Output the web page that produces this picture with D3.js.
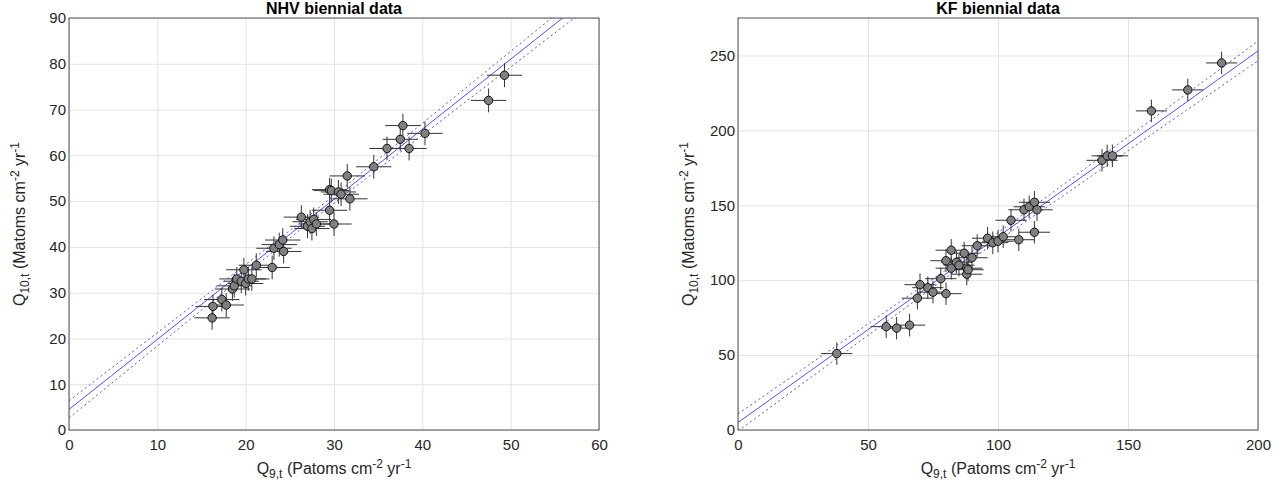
<!DOCTYPE html>
<html><head><meta charset="utf-8">
<script src="https://cdn.jsdelivr.net/npm/d3@7"></script>
<style>body{margin:0;background:#fff;font-family:"Liberation Sans",Arial,sans-serif}</style>
</head><body><svg id="c" width="1283" height="494"></svg>
<script>
// NHV data
const nhvX = [16.2,16.3,17.3,17.8,18.5,18.7,19,19.5,19.8,20,20.3,20.7,21.2,23,23.2,23.8,24.2,24.3,26.3,27,27.3,27.5,27.7,28,29.5,29.7,30.5,30.8,31.5,31.8,29.5,30,34.5,36,37.5,37.8,38.5,40.3,47.5,49.3];
const nhvY = [24.5,27,28.5,27.3,30.8,31.5,33,32.5,35,32,33,33,36,35.5,39.7,40.5,41.5,39,46.5,44.5,45.5,44,46,45,52.5,52.3,52,51.5,55.5,50.5,48,45,57.5,61.5,63.5,66.5,61.5,64.8,72,77.5];
// KF data
const kfX = [38,57,61,66,69,70,73,75,78,80,80,82,82,84,85,87,88,88,88.5,90,92,96,98,100,102,105,108,110,112,114,114,115,140,142,144,159,173,186];
const kfY = [51,69,68,70,88,97,95,92,101,91,113,120,108,112,110,118,104,108,107,115,123,128,125,126,129,140,127,147,149,132,152,147,180,183,183,213,227,245];
const nhvErr = [2, 2.6];
const kfErr = [6, 7.5];
const nhvFit = [4.5, 1.53, 0.75];
const kfFit = [5, 1.24, 2.3];

const svg = d3.select("#c");
function panel(x0, x1, xd, yd, xt, yt, X, Y, err, fit, title) {
  const x = d3.scaleLinear().domain(xd).range([x0, x1]);
  const y = d3.scaleLinear().domain(yd).range([430, 18]);
  const g = svg.append("g");
  const xa = g.append("g").attr("transform","translate(0,430)")
    .call(d3.axisBottom(x).tickValues(xt).tickSize(-412).tickSizeOuter(0));
  const ya = g.append("g").attr("transform",`translate(${x0},0)`)
    .call(d3.axisLeft(y).tickValues(yt).tickSize(-(x1-x0)).tickSizeOuter(0));
  g.selectAll(".tick line").attr("stroke","#e3e3e3");
  g.selectAll(".domain").remove();
  g.selectAll(".tick text").attr("font-size",15).attr("fill","#262626")
    .attr("font-family","Liberation Sans, Arial");
  xa.selectAll(".tick text").attr("dy","1.1em");
  g.append("rect").attr("x",x0).attr("y",18).attr("width",x1-x0).attr("height",412)
    .attr("fill","none").attr("stroke","#262626").attr("stroke-width",0.8);
  const clip = "cl"+x0;
  g.append("clipPath").attr("id",clip).append("rect").attr("x",x0).attr("y",18).attr("width",x1-x0).attr("height",412);
  const inner = g.append("g").attr("clip-path",`url(#${clip})`);
  const lx = d3.range(xd[0], xd[1]+0.001, (xd[1]-xd[0])/50);
  const mid = xd[1]*0.45;
  [[0,null],[fit[2],"2,3"],[-fit[2],"2,3"]].forEach(([o,d])=>{
    inner.append("path").attr("d", d3.line().x(v=>x(v)).y(v=>y(fit[0]+fit[1]*v + o*(1+1.5*Math.abs(v-mid)/mid)))(lx))
      .attr("fill","none").attr("stroke","#3b3bff").attr("stroke-width",0.9).attr("stroke-dasharray",d);
  });
  const pts = X.map((v,i)=>[v,Y[i]]);
  inner.selectAll(".eh").data(pts).join("line").attr("x1",d=>x(d[0]-err[0])).attr("x2",d=>x(d[0]+err[0]))
    .attr("y1",d=>y(d[1])).attr("y2",d=>y(d[1])).attr("stroke","#333").attr("stroke-width",1);
  inner.selectAll(".ev").data(pts).join("line").attr("x1",d=>x(d[0])).attr("x2",d=>x(d[0]))
    .attr("y1",d=>y(d[1]-err[1])).attr("y2",d=>y(d[1]+err[1])).attr("stroke","#333").attr("stroke-width",1);
  inner.selectAll("circle").data(pts).join("circle").attr("cx",d=>x(d[0])).attr("cy",d=>y(d[1]))
    .attr("r",4.2).attr("fill","#808080").attr("stroke","#111").attr("stroke-width",1);
  g.append("text").attr("x",(x0+x1)/2).attr("y",14).attr("text-anchor","middle")
    .attr("font-size",16).attr("font-weight","bold").text(title);
  const xl = g.append("text").attr("x",(x0+x1)/2).attr("y",474).attr("text-anchor","middle").attr("font-size",16).attr("fill","#262626");
  xl.append("tspan").text("Q"); xl.append("tspan").attr("font-size",12).attr("dy",4).text("9,t");
  xl.append("tspan").attr("dy",-4).text(" (Patoms cm"); xl.append("tspan").attr("font-size",12).attr("dy",-6).text("-2");
  xl.append("tspan").attr("dy",6).text(" yr"); xl.append("tspan").attr("font-size",12).attr("dy",-6).text("-1");
  const yl = g.append("text").attr("transform",`translate(${x0-44},224) rotate(-90)`).attr("text-anchor","middle").attr("font-size",16).attr("fill","#262626");
  yl.append("tspan").text("Q"); yl.append("tspan").attr("font-size",12).attr("dy",4).text("10,t");
  yl.append("tspan").attr("dy",-4).text(" (Matoms cm"); yl.append("tspan").attr("font-size",12).attr("dy",-6).text("-2");
  yl.append("tspan").attr("dy",6).text(" yr"); yl.append("tspan").attr("font-size",12).attr("dy",-6).text("-1");
}
panel(69, 599, [0,60], [0,90], d3.range(0,61,10), d3.range(0,91,10), nhvX, nhvY, nhvErr, nhvFit, "NHV biennial data");
panel(738, 1258, [0,200], [0,275], d3.range(0,201,50), d3.range(0,251,50), kfX, kfY, kfErr, kfFit, "KF biennial data");
</script></body></html>
